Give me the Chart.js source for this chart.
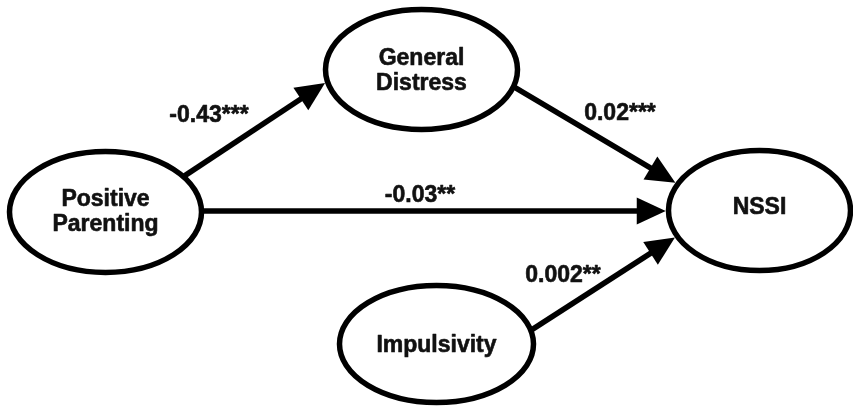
<!DOCTYPE html>
<html><head><meta charset="utf-8">
<script src="https://cdn.jsdelivr.net/npm/chart.js@4.4.1/dist/chart.umd.min.js"></script>
<style>html,body{margin:0;padding:0;background:#fff;overflow:hidden}#wrap{width:853px;height:407px;position:relative}</style>
</head><body><div id="wrap"><canvas id="c"></canvas></div>
<script>
// ---- data ----
const nodeNames = [["Positive","Parenting"],["General","Distress"],["NSSI"],["Impulsivity"]];
const pathFrom = [0, 1, 0, 3];
const pathTo = [1, 2, 2, 2];
const pathCoefficients = ["-0.43", "0.02", "-0.03", "0.002"];
const pathSignificance = ["***", "***", "**", "**"];

// ---- layout (diagram geometry in axis units) ----
const nodeLayout = [
  {x:105.5, y:212,   rx:96, ry:60.5, ty:206},
  {x:421.5, y:69.5,  rx:96, ry:60,   ty:65},
  {x:759.5, y:210.5, rx:91, ry:60,   ty:214},
  {x:436.5, y:344,   rx:97, ry:58.5, ty:352}
];
const edgeLayout = [
  {a0:-35.8, a1:167.6, lx:209, ly:122},
  {a0:16.6,  a1:-153.8, lx:620, ly:120},
  {a0:-1,    a1:179.5, lx:420, ly:202},
  {a0:-13.5, a1:154.4, lx:563, ly:282}
];
const style = {stroke:'#000', text:'#111', lw:5.5, headLen:29, headW:27, font:'bold 23px "Liberation Sans", Arial, sans-serif', lineH:24.5};

const diagramPlugin = {
  id:'pathDiagram',
  afterDatasetsDraw(chart){
    const ctx = chart.ctx, xs = chart.scales.x, ys = chart.scales.y;
    const P = (x,y)=>[xs.getPixelForValue(x), ys.getPixelForValue(y)];
    const sx = Math.abs(xs.getPixelForValue(1)-xs.getPixelForValue(0));
    const sy = Math.abs(ys.getPixelForValue(1)-ys.getPixelForValue(0));
    const onEllipse = (n, deg, extra)=>{
      const t = deg*Math.PI/180;
      const [cx,cy] = P(n.x,n.y);
      return [cx + (n.rx*sx+extra)*Math.cos(t), cy + (n.ry*sy+extra)*Math.sin(t)];
    };
    ctx.save();
    ctx.strokeStyle = style.stroke; ctx.fillStyle = style.stroke; ctx.lineWidth = style.lw;
    pathFrom.forEach((f,i)=>{
      const e = edgeLayout[i];
      const S = onEllipse(nodeLayout[f], e.a0, 0);
      const T = onEllipse(nodeLayout[pathTo[i]], e.a1, style.lw/2);
      const dx = T[0]-S[0], dy = T[1]-S[1], len = Math.hypot(dx,dy);
      const ux = dx/len, uy = dy/len, nx = -uy, ny = ux;
      const L = style.headLen, W = style.headW/2;
      ctx.beginPath(); ctx.lineCap='butt';
      ctx.moveTo(S[0],S[1]); ctx.lineTo(T[0]-ux*L*0.8, T[1]-uy*L*0.8); ctx.stroke();
      ctx.beginPath();
      ctx.moveTo(T[0],T[1]);
      ctx.lineTo(T[0]-ux*L+nx*W, T[1]-uy*L+ny*W);
      ctx.lineTo(T[0]-ux*L-nx*W, T[1]-uy*L-ny*W);
      ctx.closePath(); ctx.fill();
    });
    nodeLayout.forEach(n=>{
      const [cx,cy] = P(n.x,n.y);
      ctx.beginPath(); ctx.ellipse(cx,cy,n.rx*sx,n.ry*sy,0,0,Math.PI*2); ctx.stroke();
    });
    ctx.fillStyle = style.text; ctx.strokeStyle = style.text; ctx.lineWidth = 0.6; ctx.lineJoin='round';
    ctx.font = style.font; ctx.textAlign='center'; ctx.textBaseline='alphabetic';
    const txt = (s,x,y)=>{ ctx.fillText(s,x,y); ctx.strokeText(s,x,y); };
    nodeNames.forEach((lines,i)=>{
      const n = nodeLayout[i];
      lines.forEach((s,k)=>{ const [x,y]=P(n.x, n.ty + k*style.lineH); txt(s,x,y); });
    });
    pathCoefficients.forEach((c,i)=>{
      const e = edgeLayout[i]; const [x,y]=P(e.lx,e.ly);
      txt(c + pathSignificance[i], x, y);
    });
    ctx.restore();
  }
};

new Chart(document.getElementById('c'), {
  type:'scatter',
  data:{datasets:[{data: nodeLayout.map(n=>({x:n.x,y:n.y})), pointRadius:0, pointHoverRadius:0}]},
  options:{
    responsive:true, maintainAspectRatio:false, animation:false,
    layout:{padding:0},
    plugins:{legend:{display:false}, tooltip:{enabled:false}},
    events:[],
    scales:{
      x:{type:'linear', min:0, max:853, display:false},
      y:{type:'linear', min:0, max:407, reverse:true, display:false}
    }
  },
  plugins:[diagramPlugin]
});
</script>
</body></html>
